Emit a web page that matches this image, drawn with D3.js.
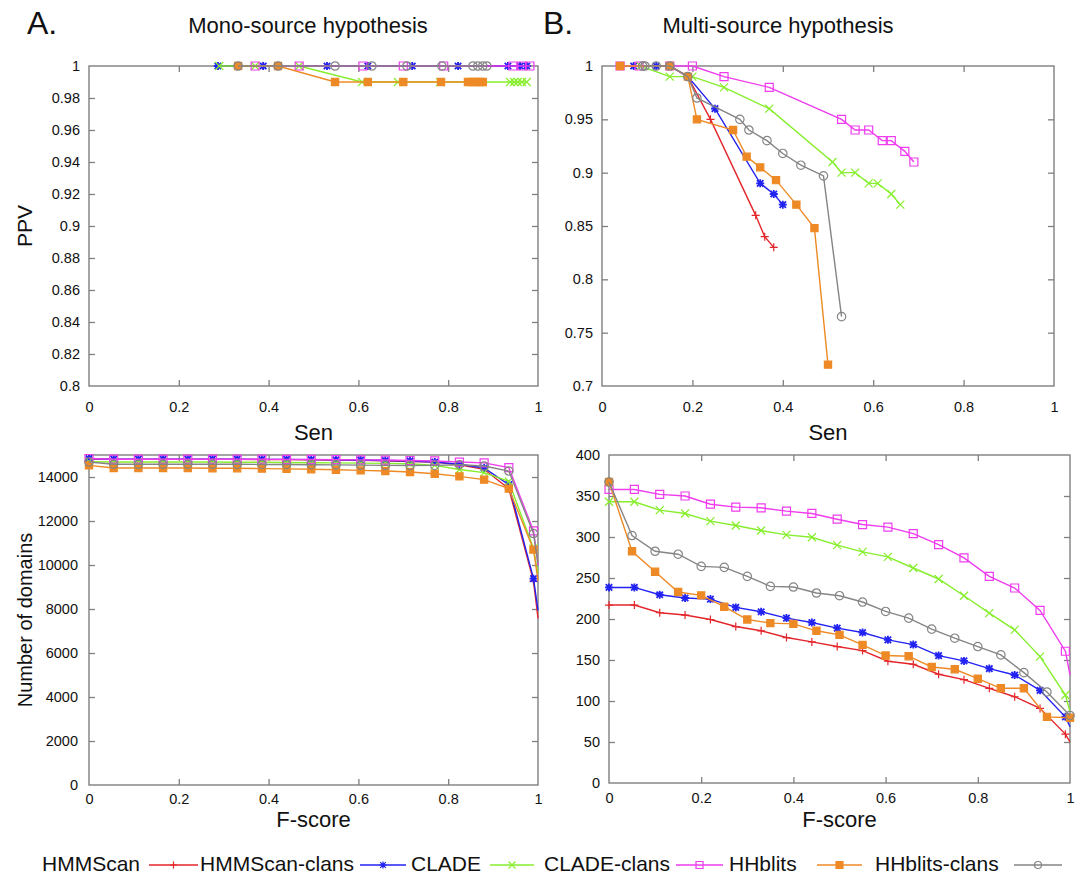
<!DOCTYPE html>
<html>
<head>
<meta charset="utf-8">
<script src="https://cdn.jsdelivr.net/npm/d3@7"></script>
<style>
  html, body { margin: 0; padding: 0; background: #fff; }
  svg { display: block; }
  text { font-family: "Liberation Sans", Arial, sans-serif; fill: #111; }
</style>
</head>
<body>
<svg id="chart" width="1085" height="880"></svg>
<script>
// ---------------- DATA ----------------
const seriesNames = ["HMMScan", "HMMScan-clans", "CLADE", "CLADE-clans", "HHblits", "HHblits-clans"];

// Panel A top: Mono-source, [Sen, PPV]
const monoHMMScan      = [[0.287,1],[0.388,1],[0.53,1],[0.621,1],[0.72,1],[0.822,1],[0.933,1],[0.96,1],[0.975,1]];
const monoHMMScanClans = [[0.287,1],[0.388,1],[0.53,1],[0.621,1],[0.72,1],[0.822,1],[0.933,1],[0.96,1],[0.975,1]];
const monoCLADE        = [[0.29,1],[0.37,1],[0.468,1],[0.608,0.99],[0.688,0.99],[0.782,0.99],[0.938,0.99],[0.947,0.99],[0.955,0.99],[0.964,0.99],[0.975,0.99]];
const monoCLADEClans   = [[0.37,1],[0.468,1],[0.61,1],[0.70,1],[0.79,1],[0.944,1],[0.964,1],[0.982,1]];
const monoHHblits      = [[0.332,1],[0.421,1],[0.548,0.99],[0.621,0.99],[0.70,0.99],[0.784,0.99],[0.844,0.99],[0.853,0.99],[0.862,0.99],[0.871,0.99],[0.877,0.99]];
const monoHHblitsClans = [[0.332,1],[0.421,1],[0.548,1],[0.63,1],[0.708,1],[0.786,1],[0.855,1],[0.866,1],[0.877,1],[0.886,1]];

// Panel B top: Multi-source, [Sen, PPV]
const multiHMMScan      = [[0.04,1],[0.15,1],[0.19,0.99],[0.24,0.95],[0.34,0.86],[0.36,0.84],[0.38,0.83]];
const multiHMMScanClans = [[0.04,1],[0.07,1],[0.12,1],[0.15,1],[0.19,0.99],[0.25,0.96],[0.35,0.89],[0.38,0.88],[0.40,0.87]];
const multiCLADE        = [[0.04,1],[0.085,1],[0.15,0.99],[0.20,0.99],[0.27,0.98],[0.37,0.96],[0.51,0.91],[0.53,0.90],[0.56,0.90],[0.59,0.89],[0.61,0.89],[0.64,0.88],[0.66,0.87]];
const multiCLADEClans   = [[0.04,1],[0.082,1],[0.15,1],[0.20,1],[0.27,0.99],[0.37,0.98],[0.53,0.95],[0.56,0.94],[0.59,0.94],[0.62,0.93],[0.64,0.93],[0.67,0.92],[0.69,0.91]];
const multiHHblits      = [[0.04,1],[0.15,1],[0.19,0.99],[0.21,0.95],[0.29,0.94],[0.32,0.915],[0.35,0.905],[0.385,0.893],[0.43,0.87],[0.47,0.848],[0.50,0.72]];
const multiHHblitsClans = [[0.09,1],[0.095,1],[0.12,1],[0.15,1],[0.19,0.99],[0.21,0.97],[0.305,0.95],[0.325,0.94],[0.365,0.93],[0.40,0.918],[0.44,0.907],[0.49,0.897],[0.53,0.765]];

// F-score thresholds
const fScoreA = [0,0.055,0.11,0.165,0.22,0.275,0.33,0.385,0.44,0.495,0.55,0.605,0.66,0.715,0.77,0.825,0.88,0.935,0.99,1];
const fScoreB = [0,0.05,0.1,0.15,0.2,0.25,0.3,0.35,0.4,0.45,0.5,0.55,0.6,0.65,0.7,0.75,0.8,0.85,0.9,0.95,1];

// Panel A bottom: Mono-source, number of domains (on fScoreA)
const monoDomHMMScan      = [14820,14800,14800,14800,14800,14800,14800,14790,14790,14780,14770,14760,14740,14700,14680,14550,14350,13470,9270,7580];
const monoDomHMMScanClans = [14840,14810,14810,14810,14810,14810,14810,14800,14800,14790,14780,14770,14750,14730,14680,14580,14410,13650,9380,7940];
const monoDomCLADE        = [14700,14680,14680,14680,14680,14680,14670,14670,14660,14650,14640,14630,14620,14600,14530,14340,14200,13800,10750,9600];
const monoDomCLADEClans   = [14840,14810,14810,14810,14810,14810,14810,14810,14800,14800,14790,14780,14770,14750,14730,14680,14640,14430,11550,10000];
const monoDomHHblits      = [14530,14410,14410,14410,14410,14400,14400,14380,14370,14350,14330,14300,14270,14230,14150,14030,13880,13470,10700,9300];
const monoDomHHblitsClans = [14680,14580,14580,14580,14580,14580,14580,14570,14570,14560,14550,14540,14530,14520,14530,14560,14500,14270,11430,10100];

// Panel B bottom: Multi-source, number of domains
const multiDomHMMScan      = [217,217,207.6,204.8,199.4,190.8,185.6,177.4,172.1,166.4,161.5,148.5,144.8,132.6,126,115.5,105.2,91,59.6,50.2];
const multiDomHMMScanClans = [238.5,238.5,229.6,225.6,224.3,214.1,208.8,201.1,195.7,188.9,183.5,174.6,168.8,155.4,148.9,139.5,131.7,113,80.7,68.5];
const multiDomCLADE        = [343,343,332.7,328.7,319.3,314,307.9,302.6,299.7,290,281.8,275.7,262.2,248.8,228.4,207.2,186.8,154.1,107.3,86.9];
const multiDomCLADEClans   = [358,358,352,350,340,336.4,335.6,331.5,328.7,321.7,315.2,312,304.2,290.8,274.5,252,237.8,210.4,160.7,131.7];
const multiDomHHblits      = [367,282.6,257.7,232.9,228.8,215,199.4,195,194.1,185.6,180.7,168.4,155.4,154.6,141.5,138.7,127.2,115.5,115.5,80.7,79.5];
const multiDomHHblitsClans = [367,301.8,282.6,279,264.2,263,252,239.8,239,231.7,228.4,220.7,209.2,201.1,187.6,176.6,166.4,156.2,134.6,111,82.4];

// Tick labels
const senTicks = [0, 0.2, 0.4, 0.6, 0.8, 1];
const monoPPVTicks = [0.8, 0.82, 0.84, 0.86, 0.88, 0.9, 0.92, 0.94, 0.96, 0.98, 1];
const multiPPVTicks = [0.7, 0.75, 0.8, 0.85, 0.9, 0.95, 1];
const monoDomTicks = [0, 2000, 4000, 6000, 8000, 10000, 12000, 14000];
const multiDomTicks = [0, 50, 100, 150, 200, 250, 300, 350, 400];

// ---------------- STYLE ----------------
const colors  = ["#e3262b", "#2222f2", "#86ee2c", "#ee3cee", "#ee8a26", "#858585"];
const markers = ["plus", "star", "cross", "square", "filledSquare", "circle"];

function markerPath(type, s) {
  switch (type) {
    case "plus":  return `M${-s},0H${s}M0,${-s}V${s}`;
    case "cross": return `M${-s},${-s}L${s},${s}M${-s},${s}L${s},${-s}`;
    case "star":  return `M${-s},0H${s}M0,${-s}V${s}M${-s*0.8},${-s*0.8}L${s*0.8},${s*0.8}M${-s*0.8},${s*0.8}L${s*0.8},${-s*0.8}`;
    case "square": case "filledSquare":
      return `M${-s},${-s}H${s}V${s}H${-s}Z`;
    case "circle": return d3.arc()({innerRadius:0, outerRadius:s, startAngle:0, endAngle:2*Math.PI});
  }
}

const svg = d3.select("#chart");

function drawPanel(cfg) {
  const x = d3.scaleLinear().domain([0, 1]).range([cfg.left, cfg.right]);
  const y = d3.scaleLinear().domain(cfg.yDomain).range([cfg.bottom, cfg.top]);
  const g = svg.append("g");
  const axisColor = "#7f7f7f";
  g.append("rect").attr("x", cfg.left).attr("y", cfg.top)
    .attr("width", cfg.right - cfg.left).attr("height", cfg.bottom - cfg.top)
    .attr("fill", "none").attr("stroke", axisColor).attr("stroke-width", 1.4);

  const tick = 6;
  const xb = g.append("g").attr("transform", `translate(0,${cfg.bottom})`)
    .call(d3.axisBottom(x).tickValues(senTicks).tickSize(-tick).tickPadding(cfg.xPad).tickFormat(d => String(d)));
  const xt = g.append("g").attr("transform", `translate(0,${cfg.top})`)
    .call(d3.axisTop(x).tickValues(senTicks).tickSize(-tick).tickFormat(""));
  const yl = g.append("g").attr("transform", `translate(${cfg.left},0)`)
    .call(d3.axisLeft(y).tickValues(cfg.yTicks).tickSize(-tick).tickPadding(cfg.yPad).tickFormat(d => String(d)));
  const yr = g.append("g").attr("transform", `translate(${cfg.right},0)`)
    .call(d3.axisRight(y).tickValues(cfg.yTicks).tickSize(-tick).tickFormat(""));
  [xb, xt, yl, yr].forEach(a => {
    a.select(".domain").remove();
    a.selectAll(".tick line").attr("stroke", axisColor).attr("stroke-width", 1.3);
    a.selectAll(".tick text").attr("font-family", "DejaVu Sans, sans-serif").attr("font-size", 14.5).attr("fill", "#222");
  });
  [xb, xt].forEach(a => a.selectAll(".tick line").filter(d => d === 0 || d === 1).remove());
  [yl, yr].forEach(a => a.selectAll(".tick line").filter(d => d === cfg.yDomain[0] || d === cfg.yDomain[1]).remove());

  g.append("text").attr("x", (cfg.left + cfg.right) / 2).attr("y", cfg.xLabelY)
    .attr("text-anchor", "middle").attr("font-size", 22).text(cfg.xLabel);
  if (cfg.yLabel) {
    g.append("text").attr("transform", `translate(${cfg.yLabelX},${(cfg.top + cfg.bottom) / 2}) rotate(-90)`)
      .attr("text-anchor", "middle").attr("font-size", cfg.yLabelSize).text(cfg.yLabel);
  }

  const line = d3.line().x(d => x(d[0])).y(d => y(d[1]));
  const clipId = "clip" + cfg.id;
  svg.append("clipPath").attr("id", clipId).append("rect")
    .attr("x", cfg.left - 8).attr("y", cfg.top - 8).attr("width", cfg.right - cfg.left + 16).attr("height", cfg.bottom - cfg.top + 16);
  const sg = g.append("g").attr("clip-path", `url(#${clipId})`);
  cfg.series.forEach((pts, i) => {
    sg.append("path").attr("d", line(pts)).attr("fill", "none")
      .attr("stroke", colors[i]).attr("stroke-width", 1.4);
    const type = markers[i];
    const shown = (cfg.skipEnd && cfg.skipEnd[i]) ? pts.slice(0, -1) : pts;
    sg.selectAll(null).data(shown).enter().append("path")
      .attr("transform", d => `translate(${x(d[0])},${y(d[1])})`)
      .attr("d", markerPath(type, type === "circle" ? 4.2 : (type === "filledSquare" ? 3.6 : 4)))
      .attr("fill", type === "filledSquare" ? colors[i] : "none")
      .attr("stroke", colors[i]).attr("stroke-width", type === "star" ? 1.8 : 1.2);
  });
}

const zipF = (xs, ys) => ys.map((v, k) => [xs[k], v]);

drawPanel({ id: "a1", left: 89, right: 538, top: 66, bottom: 386, yDomain: [0.8, 1], yTicks: monoPPVTicks, yPad: 9, xPad: 16,
  xLabel: "Sen", xLabelY: 440, yLabel: "PPV", yLabelX: 32, yLabelSize: 21,
  series: [monoHMMScan, monoHMMScanClans, monoCLADE, monoCLADEClans, monoHHblits, monoHHblitsClans] });
drawPanel({ id: "b1", left: 602, right: 1054, top: 66, bottom: 386, yDomain: [0.7, 1], yTicks: multiPPVTicks, yPad: 9, xPad: 16,
  xLabel: "Sen", xLabelY: 440, yLabel: null,
  series: [multiHMMScan, multiHMMScanClans, multiCLADE, multiCLADEClans, multiHHblits, multiHHblitsClans] });
drawPanel({ id: "a2", left: 89, right: 538, top: 455, bottom: 785, yDomain: [0, 15000], yTicks: monoDomTicks, yPad: 11, xPad: 9,
  xLabel: "F-score", xLabelY: 827, yLabel: "Number of domains", yLabelX: 32, yLabelSize: 20,
  skipEnd: [true, true, true, true, true, true],
  series: [zipF(fScoreA, monoDomHMMScan), zipF(fScoreA, monoDomHMMScanClans), zipF(fScoreA, monoDomCLADE),
           zipF(fScoreA, monoDomCLADEClans), zipF(fScoreA, monoDomHHblits), zipF(fScoreA, monoDomHHblitsClans)] });
drawPanel({ id: "b2", left: 609, right: 1070, top: 455, bottom: 783, yDomain: [0, 400], yTicks: multiDomTicks, yPad: 9, xPad: 10,
  xLabel: "F-score", xLabelY: 827, yLabel: null,
  skipEnd: [true, true, true, true, false, false],
  series: [zipF(fScoreA, multiDomHMMScan), zipF(fScoreA, multiDomHMMScanClans), zipF(fScoreA, multiDomCLADE),
           zipF(fScoreA, multiDomCLADEClans), zipF(fScoreB, multiDomHHblits), zipF(fScoreB, multiDomHHblitsClans)] });

// Titles
svg.append("text").attr("x", 27).attr("y", 34).attr("font-size", 32).text("A.");
svg.append("text").attr("x", 543).attr("y", 34).attr("font-size", 32).text("B.");
svg.append("text").attr("x", 308).attr("y", 33).attr("text-anchor", "middle").attr("font-size", 22).text("Mono-source hypothesis");
svg.append("text").attr("x", 778).attr("y", 33).attr("text-anchor", "middle").attr("font-size", 22).text("Multi-source hypothesis");

// Legend: label followed by sample
const legendText = [42, 200, 411, 544, 729, 875];
const legendSample = [[149, 198], [360, 406], [490, 534], [676, 723], [817, 862], [1014, 1062]];
const lg = svg.append("g");
seriesNames.forEach((name, i) => {
  lg.append("text").attr("x", legendText[i]).attr("y", 871).attr("font-family", "DejaVu Sans, sans-serif")
    .attr("font-size", 21).text(name);
  const yy = 865;
  lg.append("line").attr("x1", legendSample[i][0]).attr("x2", legendSample[i][1]).attr("y1", yy).attr("y2", yy)
    .attr("stroke", colors[i]).attr("stroke-width", 1.6);
  const type = markers[i];
  lg.append("path").attr("transform", `translate(${(legendSample[i][0] + legendSample[i][1]) / 2},${yy})`)
    .attr("d", markerPath(type, 3.5))
    .attr("fill", type === "filledSquare" ? colors[i] : "none")
    .attr("stroke", colors[i]).attr("stroke-width", 1.2);
});
</script>
</body>
</html>
